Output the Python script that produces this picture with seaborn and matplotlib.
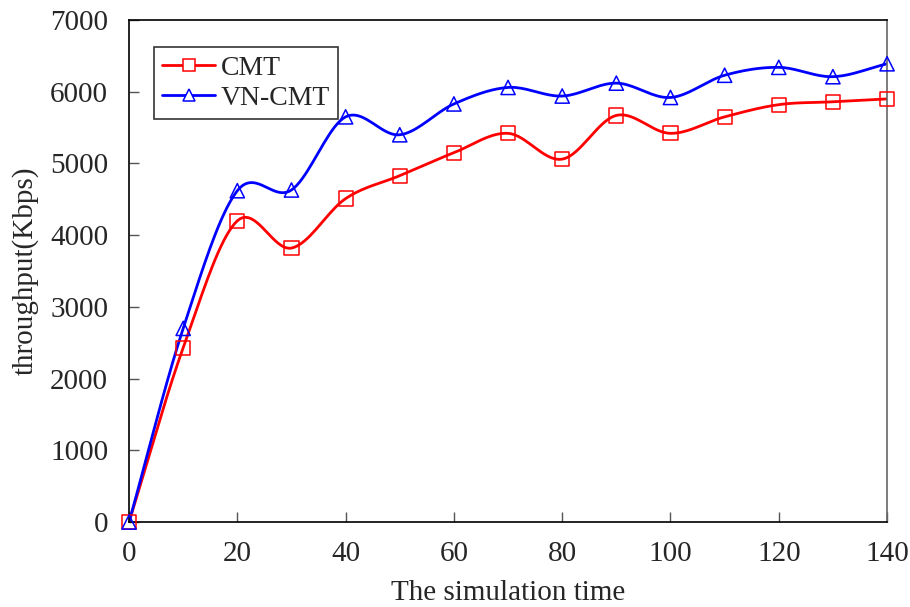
import numpy as np
import pandas as pd
import seaborn as sns
import matplotlib
matplotlib.use("Agg")
import matplotlib.pyplot as plt
from matplotlib.lines import Line2D

time = [0, 10, 20, 30, 40, 50, 60, 70, 80, 90, 100, 110, 120, 130, 140]
cmt = [0, 2430, 4200, 3820, 4510, 4830, 5150, 5420, 5060, 5670, 5420, 5650, 5820, 5860, 5900]
vn_cmt = [0, 2700, 4620, 4630, 5650, 5400, 5830, 6060, 5940, 6120, 5920, 6230, 6340, 6210, 6390]
series_names = ["CMT", "VN-CMT"]
colors = ["#ff0000", "#0000ff"]
markers = ["s", "^"]
x_ticks = [0, 20, 40, 60, 80, 100, 120, 140]
y_ticks = [0, 1000, 2000, 3000, 4000, 5000, 6000, 7000]

sns.set_theme(style="ticks")
plt.rcParams['font.family'] = ['Liberation Serif', 'DejaVu Serif']


def smooth(x, y, n=20):
    # Catmull-Rom style display smoothing (like spreadsheet "smoothed line")
    x = np.asarray(x, float)
    y = np.asarray(y, float)
    px = np.concatenate([[2 * x[0] - x[1]], x, [2 * x[-1] - x[-2]]])
    py = np.concatenate([[2 * y[0] - y[1]], y, [2 * y[-1] - y[-2]]])
    xs, ys = [], []
    for i in range(1, len(px) - 2):
        t = np.linspace(0, 1, n, endpoint=False)
        for arr, out in ((px, xs), (py, ys)):
            p0, p1, p2, p3 = arr[i - 1], arr[i], arr[i + 1], arr[i + 2]
            out.append(0.5 * ((2 * p1) + (-p0 + p2) * t
                              + (2 * p0 - 5 * p1 + 4 * p2 - p3) * t ** 2
                              + (-p0 + 3 * p1 - 3 * p2 + p3) * t ** 3))
    xs.append([x[-1]])
    ys.append([y[-1]])
    return np.concatenate(xs), np.concatenate(ys)


fig = plt.figure(figsize=(9.1, 6.07), dpi=100)
ax = fig.add_axes([0.1418, 0.140, 0.833, 0.827])

df = pd.DataFrame({"time": time * 2, "value": cmt + vn_cmt,
                   "series": [series_names[0]] * len(time) + [series_names[1]] * len(time)})

handles = []
for name, col, mk in zip(series_names, colors, markers):
    sub = df[df["series"] == name]
    sx, sy = smooth(sub["time"].values, sub["value"].values)
    sns.lineplot(x=sx, y=sy, ax=ax, color=col, linewidth=2, sort=False, estimator=None)
    sns.scatterplot(x=sub["time"], y=sub["value"], ax=ax, marker=mk, s=105,
                    facecolors="none", edgecolors=col, linewidth=1.1, legend=False, zorder=3)
    handles.append(Line2D([0], [0], color=col, linewidth=2, marker=mk, markersize=8,
                          markerfacecolor="white", markeredgecolor=col, markeredgewidth=1.1))
for coll in ax.collections:
    coll.set_clip_on(False)

ax.set_xlim(0, 140)
ax.set_ylim(0, 7000)
ax.set_xticks(x_ticks)
ax.set_yticks(y_ticks)
ax.tick_params(direction="in", length=7, width=1, labelsize=21, color="#555555",
               top=False, right=False)
ax.tick_params(axis="x", pad=14)
ax.tick_params(axis="y", pad=15)
for sp in ax.spines.values():
    sp.set_linewidth(1.2)
    sp.set_color("black")
ax.spines["right"].set_color("#666666")
ax.set_xlabel("The simulation time", fontsize=21, labelpad=9)
ax.set_ylabel("throughput(Kbps)", fontsize=21, labelpad=8)

leg = ax.legend(handles, series_names, loc="upper left", bbox_to_anchor=(0.033, 0.946),
                fontsize=20, frameon=True, fancybox=False, edgecolor="black",
                handlelength=1.9, borderpad=0.3, labelspacing=0.15, handletextpad=0.2,
                borderaxespad=0)
leg.get_frame().set_linewidth(1.2)

fig.savefig("out.png", dpi=100)
